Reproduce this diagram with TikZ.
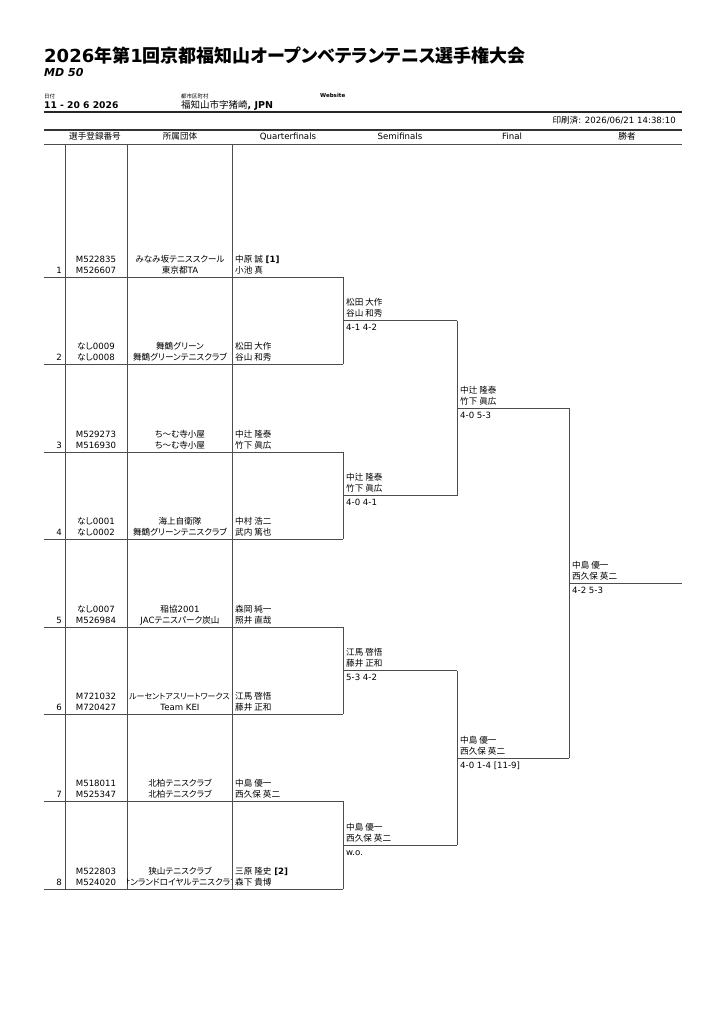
\documentclass[tikz,border=0pt]{standalone}
\usepackage{fontspec}
\setmainfont{DejaVu Sans}[ItalicFont={* Oblique},BoldItalicFont={* Bold Oblique}]
\newfontfamily\jp[RawFeature=+palt]{Noto Sans CJK JP}

\begin{document}
\begin{tikzpicture}[x=1pt,y=1pt]
\tikzstyle{every node}+=[inner sep=0pt, font=\fontsize{8.6}{10}\selectfont]
\tikzstyle{lft}=[anchor=base west]
\tikzstyle{mid}=[anchor=base]
\tikzstyle{rgt}=[anchor=base east]
\tikzstyle{rule}=[black!70, line width=0.8pt]
\useasboundingbox (0,0) rectangle (724,-1024);
% header
\draw (44,-63) node [lft, font=\fontsize{18}{20}\selectfont\bfseries] (title) {2026{\jp 年第}1{\jp 回京都福知山オープンベテランテニス選手権大会}};
\draw (44,-77) node [lft, font=\fontsize{11}{12}\selectfont\bfseries\itshape] (event) {MD 50};
\draw (44,-99) node [lft, font=\fontsize{5.5}{6}\selectfont] (datelbl) {\jp 日付};
\draw (44,-109) node [lft, font=\fontsize{9.2}{10}\selectfont\bfseries] (dates) {11 - 20 6 2026};
\draw (181,-99) node [lft, font=\fontsize{5.5}{6}\selectfont] (citylbl) {\jp 都市区町村};
\draw (181,-109) node [lft, font=\fontsize{9.5}{10}\selectfont] (city) {{\jp 福知山市字猪崎}\bfseries, JPN};
\draw (320,-98) node [lft, font=\fontsize{5.5}{6}\selectfont\bfseries] (web) {Website};
\draw [black!85, line width=2.2pt] (44,-112) -- (682,-112);
\draw (676,-124) node [rgt] (printed) {{\jp 印刷済}: 2026/06/21 14:38:10};
\draw [black!80, line width=1.2pt] (44,-130) -- (682,-130);
\draw (95,-140) node [mid] (hid) {\jp 選手登録番号};
\draw (180,-140) node [mid] (hclub) {\jp 所属団体};
\draw (288,-140) node [mid] (hqf) {Quarterfinals};
\draw (400,-140) node [mid] (hsf) {Semifinals};
\draw (512,-140) node [mid] (hf) {Final};
\draw (627,-140) node [mid] (hwin) {\jp 勝者};
\draw [rule] (44,-144) -- (682,-144);
\draw [rule] (65,-144) -- (65,-889);
\draw [rule] (127,-144) -- (127,-889);
\draw [rule] (232,-144) -- (232,-889);
% draw rows
\draw (62,-273) node [rgt] (n1) {1};
\draw (96,-262) node [mid] (id1a) {M522835};
\draw (96,-273) node [mid] (id1b) {M526607};
\draw (180,-262) node [mid] (club1a) {\jp みなみ坂テニススクール};
\draw (180,-273) node [mid] (club1b) {{\jp 東京都}TA};
\draw (235,-262) node [lft] (pl1a) {{\jp 中原 誠} \bfseries [1]};
\draw (235,-273) node [lft] (pl1b) {\jp 小池 真};
\draw [rule] (44,-277) -- (343,-277);
\draw (62,-360) node [rgt] (n2) {2};
\draw (96,-349) node [mid] (id2a) {{\jp なし}0009};
\draw (96,-360) node [mid] (id2b) {{\jp なし}0008};
\draw (180,-349) node [mid] (club2a) {\jp 舞鶴グリーン};
\draw (180,-360) node [mid] (club2b) {\jp 舞鶴グリーンテニスクラブ};
\draw (235,-349) node [lft] (pl2a) {\jp 松田 大作};
\draw (235,-360) node [lft] (pl2b) {\jp 谷山 和秀};
\draw [rule] (44,-364) -- (343,-364);
\draw (62,-448) node [rgt] (n3) {3};
\draw (96,-437) node [mid] (id3a) {M529273};
\draw (96,-448) node [mid] (id3b) {M516930};
\draw (180,-437) node [mid] (club3a) {\jp ち〜む寺小屋};
\draw (180,-448) node [mid] (club3b) {\jp ち〜む寺小屋};
\draw (235,-437) node [lft] (pl3a) {\jp 中辻 隆泰};
\draw (235,-448) node [lft] (pl3b) {\jp 竹下 眞広};
\draw [rule] (44,-452) -- (343,-452);
\draw (62,-535) node [rgt] (n4) {4};
\draw (96,-524) node [mid] (id4a) {{\jp なし}0001};
\draw (96,-535) node [mid] (id4b) {{\jp なし}0002};
\draw (180,-524) node [mid] (club4a) {\jp 海上自衛隊};
\draw (180,-535) node [mid] (club4b) {\jp 舞鶴グリーンテニスクラブ};
\draw (235,-524) node [lft] (pl4a) {\jp 中村 浩二};
\draw (235,-535) node [lft] (pl4b) {\jp 武内 篤也};
\draw [rule] (44,-539) -- (343,-539);
\draw (62,-623) node [rgt] (n5) {5};
\draw (96,-612) node [mid] (id5a) {{\jp なし}0007};
\draw (96,-623) node [mid] (id5b) {M526984};
\draw (180,-612) node [mid] (club5a) {{\jp 稲協}2001};
\draw (180,-623) node [mid] (club5b) {JAC{\jp テニスパーク炭山}};
\draw (235,-612) node [lft] (pl5a) {\jp 森岡 純一};
\draw (235,-623) node [lft] (pl5b) {\jp 照井 直哉};
\draw [rule] (44,-627) -- (343,-627);
\draw (62,-710) node [rgt] (n6) {6};
\draw (96,-699) node [mid] (id6a) {M721032};
\draw (96,-710) node [mid] (id6b) {M720427};
\draw (179.5,-699) node [mid, font=\fontsize{8}{10}\selectfont] (club6a) {\jp ルーセントアスリートワークス};
\draw (180,-710) node [mid] (club6b) {Team KEI};
\draw (235,-699) node [lft] (pl6a) {\jp 江馬 啓悟};
\draw (235,-710) node [lft] (pl6b) {\jp 藤井 正和};
\draw [rule] (44,-714) -- (343,-714);
\draw (62,-797) node [rgt] (n7) {7};
\draw (96,-786) node [mid] (id7a) {M518011};
\draw (96,-797) node [mid] (id7b) {M525347};
\draw (180,-786) node [mid] (club7a) {\jp 北柏テニスクラブ};
\draw (180,-797) node [mid] (club7b) {\jp 北柏テニスクラブ};
\draw (235,-786) node [lft] (pl7a) {\jp 中島 優一};
\draw (235,-797) node [lft] (pl7b) {\jp 西久保 英二};
\draw [rule] (44,-801) -- (343,-801);
\draw (62,-885) node [rgt] (n8) {8};
\draw (96,-874) node [mid] (id8a) {M522803};
\draw (96,-885) node [mid] (id8b) {M524020};
\draw (180,-874) node [mid] (club8a) {\jp 狭山テニスクラブ};
\begin{scope}
\clip (127.5,-877) rectangle (231.5,-889);
\draw (180,-885) node [mid] (club8b) {\jp サンランドロイヤルテニスクラブ};
\end{scope}
\draw (235,-874) node [lft] (pl8a) {{\jp 三原 隆史} \bfseries [2]};
\draw (235,-885) node [lft] (pl8b) {\jp 森下 貴博};
\draw [rule] (44,-889) -- (343,-889);
% semifinals
\draw [rule] (343,-277) -- (343,-364);
\draw [rule] (343,-320.5) -- (457,-320.5);
\draw (346,-305.5) node [lft] (sf1a) {\jp 松田 大作};
\draw (346,-316.5) node [lft] (sf1b) {\jp 谷山 和秀};
\draw (346,-330.5) node [lft] (sf1s) {4-1 4-2};
\draw [rule] (343,-452) -- (343,-539);
\draw [rule] (343,-495.5) -- (457,-495.5);
\draw (346,-480.5) node [lft] (sf2a) {\jp 中辻 隆泰};
\draw (346,-491.5) node [lft] (sf2b) {\jp 竹下 眞広};
\draw (346,-505.5) node [lft] (sf2s) {4-0 4-1};
\draw [rule] (343,-627) -- (343,-714);
\draw [rule] (343,-670.5) -- (457,-670.5);
\draw (346,-655.5) node [lft] (sf3a) {\jp 江馬 啓悟};
\draw (346,-666.5) node [lft] (sf3b) {\jp 藤井 正和};
\draw (346,-680.5) node [lft] (sf3s) {5-3 4-2};
\draw [rule] (343,-801) -- (343,-889);
\draw [rule] (343,-845) -- (457,-845);
\draw (346,-830) node [lft] (sf4a) {\jp 中島 優一};
\draw (346,-841) node [lft] (sf4b) {\jp 西久保 英二};
\draw (346,-855) node [lft] (sf4s) {w.o.};
% final
\draw [rule] (457,-320.5) -- (457,-495.5);
\draw [rule] (457,-408) -- (569,-408);
\draw (460,-393) node [lft] (f1a) {\jp 中辻 隆泰};
\draw (460,-404) node [lft] (f1b) {\jp 竹下 眞広};
\draw (460,-418) node [lft] (f1s) {4-0 5-3};
\draw [rule] (457,-670.5) -- (457,-845);
\draw [rule] (457,-758) -- (569,-758);
\draw (460,-743) node [lft] (f2a) {\jp 中島 優一};
\draw (460,-754) node [lft] (f2b) {\jp 西久保 英二};
\draw (460,-768) node [lft] (f2s) {4-0 1-4 [11-9]};
% winner
\draw [rule] (569,-408) -- (569,-758);
\draw [rule] (569,-583) -- (682,-583);
\draw (572,-568) node [lft] (wa) {\jp 中島 優一};
\draw (572,-579) node [lft] (wb) {\jp 西久保 英二};
\draw (572,-593) node [lft] (ws) {4-2 5-3};
\end{tikzpicture}
\end{document}
